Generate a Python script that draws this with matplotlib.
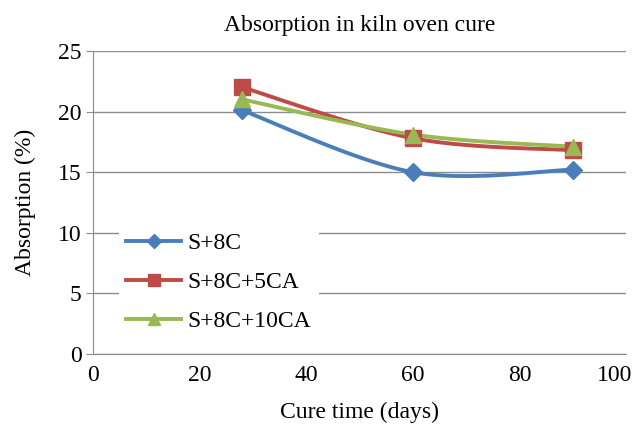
import numpy as np
import matplotlib
matplotlib.use('Agg')
import matplotlib.pyplot as plt
import matplotlib.transforms as mtransforms

# data
days = [28, 60, 90]
s8c = [20.1, 15.0, 15.2]
s8c_5ca = [22.0, 17.8, 16.8]
s8c_10ca = [21.0, 18.1, 17.1]

series_names = ['S+8C', 'S+8C+5CA', 'S+8C+10CA']
colors = ['#4A7EBB', '#BE4B48', '#98B954']
markers = ['D', 's', '^']
msizes = [9, 11, 11]

plt.rcParams['font.family'] = ['Liberation Serif', 'DejaVu Serif']
FS = 17


def smooth(x, y, n=40, tension=0.5):
    # excel-like smoothed line (cardinal spline through the points)
    x = np.asarray(x, float)
    y = np.asarray(y, float)
    px = np.concatenate([[x[0]], x, [x[-1]]])
    py = np.concatenate([[y[0]], y, [y[-1]]])
    xs, ys = [], []
    t = np.linspace(0, 1, n)
    for i in range(1, len(px) - 2):
        m0x = tension * (px[i + 1] - px[i - 1])
        m0y = tension * (py[i + 1] - py[i - 1])
        m1x = tension * (px[i + 2] - px[i])
        m1y = tension * (py[i + 2] - py[i])
        h00 = 2 * t**3 - 3 * t**2 + 1
        h10 = t**3 - 2 * t**2 + t
        h01 = -2 * t**3 + 3 * t**2
        h11 = t**3 - t**2
        xs.append(h00 * px[i] + h10 * m0x + h01 * px[i + 1] + h11 * m1x)
        ys.append(h00 * py[i] + h10 * m0y + h01 * py[i + 1] + h11 * m1y)
    return np.concatenate(xs), np.concatenate(ys)


fig = plt.figure(figsize=(6.35, 4.24), dpi=100)
ax = fig.add_axes([0.146, 0.165, 0.84, 0.715])

for vals, name, c, m, ms in zip([s8c, s8c_5ca, s8c_10ca], series_names, colors, markers, msizes):
    sx, sy = smooth(days, vals)
    ax.plot(sx, sy, color=c, lw=2.8, zorder=3)
    ax.plot(days, vals, linestyle='none', marker=m, color=c, ms=ms, zorder=4)
    ax.plot([], [], color=c, lw=2.8, marker=m, ms=ms * 0.75, label=name)

ax.set_xlim(0, 100)
ax.set_ylim(0, 25)
ax.set_xticks(range(0, 101, 20))
ax.set_yticks(range(0, 26, 5))
ax.grid(axis='y', color='#8c8c8c', lw=1)
ax.set_axisbelow(True)
for s in ['top', 'right']:
    ax.spines[s].set_visible(False)
for s in ['left', 'bottom']:
    ax.spines[s].set_color('#8c8c8c')
ax.tick_params(axis='x', length=0, labelsize=FS, pad=8)
ax.tick_params(axis='y', length=5, color='#8c8c8c', labelsize=FS, pad=3)

# last x label pulled inside the image, like the original
last = ax.get_xticklabels()[-1]
last.set_horizontalalignment('right')
last.set_transform(last.get_transform() + mtransforms.ScaledTranslation(6 / 100, 0, fig.dpi_scale_trans))

ax.set_title('Absorption in kiln oven cure', fontsize=FS, pad=14)
ax.set_xlabel('Cure time (days)', fontsize=FS, labelpad=11)
ax.set_ylabel('Absorption (%)', fontsize=FS, labelpad=16)

leg = ax.legend(loc='upper left', bbox_to_anchor=(0.05, 0.425), fontsize=FS,
                frameon=True, handlelength=2.3, labelspacing=0.75,
                borderpad=0.3, handletextpad=0.3, borderaxespad=0)
leg.get_frame().set_edgecolor('none')
leg.get_frame().set_facecolor('white')
leg.get_frame().set_alpha(1)

fig.savefig('out.png', dpi=100)
